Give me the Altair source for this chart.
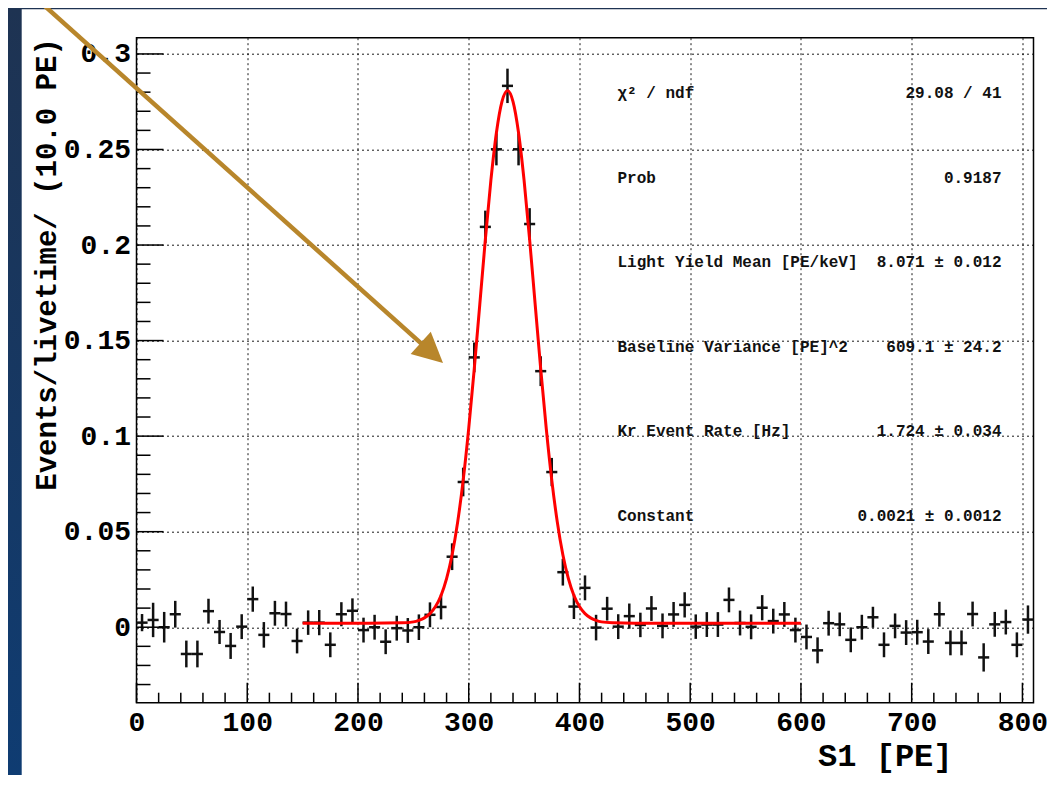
import altair as alt
import pandas as pd

# ---------------- data ----------------
bin_centers = list(range(5, 810, 10))  # 81 bins of 10 PE
rates = [
    0.0024, 0.0038, 0.0000, 0.0068, -0.0140, -0.0140, 0.0084, -0.0025, -0.0098, 0.0003,
    0.0147, -0.0040, 0.0073, 0.0069, -0.0072, 0.0024, 0.0024, -0.0092, 0.0068, 0.0086,
    -0.0015, 0.0000, -0.0076, -0.0005, -0.0017, 0.0000, 0.0065, 0.0106, 0.0369, 0.0760,
    0.1412, 0.2095, 0.2501, 0.2833, 0.2501, 0.2110, 0.1340, 0.0812, 0.0288, 0.0108,
    0.0206, -0.0002, 0.0097, 0.0003, 0.0058, 0.0012, 0.0098, 0.0007, 0.0067, 0.0117,
    0.0003, 0.0014, 0.0014, 0.0143, 0.0022, 0.0002, 0.0102, 0.0032, 0.0067, -0.0015,
    -0.0051, -0.0121, 0.0021, 0.0015, -0.0066, 0.0000, 0.0052, -0.0092, 0.0007, -0.0028,
    -0.0026, -0.0075, 0.0068, -0.0082, -0.0082, 0.0069, -0.0158, 0.0015, 0.0027, -0.0092,
    0.0040,
]
errors = [
    0.0045, 0.009, 0.008, 0.007, 0.007, 0.007, 0.0065, 0.0063, 0.0068, 0.0065,
    0.0066, 0.0067, 0.0065, 0.0065, 0.0065, 0.0064, 0.0066, 0.0065, 0.0063, 0.0065,
    0.0065, 0.0065, 0.0065, 0.0065, 0.0065, 0.0067, 0.0065, 0.0065, 0.007, 0.0075,
    0.0078, 0.0085, 0.0084, 0.009, 0.0084, 0.0083, 0.0078, 0.0074, 0.007, 0.0065,
    0.0065, 0.0067, 0.0062, 0.0065, 0.0066, 0.0064, 0.0065, 0.0065, 0.0065, 0.0066,
    0.0064, 0.0065, 0.0065, 0.0065, 0.0065, 0.0065, 0.0066, 0.0065, 0.0065, 0.0065,
    0.0065, 0.0068, 0.0065, 0.0062, 0.0065, 0.0065, 0.0055, 0.0065, 0.0065, 0.0065,
    0.0065, 0.0065, 0.0065, 0.0065, 0.0065, 0.0065, 0.0074, 0.0065, 0.0065, 0.0065,
    0.0074,
]

# red fit curve
fit_x = [150, 200, 240, 250, 255, 260, 265, 270, 275, 280, 285, 290, 295, 300, 305,
         310, 315, 320, 325, 330, 335, 340, 345, 350, 355, 360, 365, 370, 375, 380,
         385, 390, 395, 400, 405, 410, 415, 420, 430, 450, 600]
fit_y = [0.0021, 0.0021, 0.0023, 0.0028, 0.0036, 0.0049, 0.0071, 0.0108, 0.0166, 0.0254,
         0.0379, 0.0550, 0.0770, 0.1041, 0.1352, 0.1690, 0.2028, 0.2338, 0.2588, 0.2751,
         0.2808, 0.2751, 0.2588, 0.2338, 0.2028, 0.1690, 0.1352, 0.1041, 0.0770, 0.0550,
         0.0379, 0.0254, 0.0166, 0.0108, 0.0071, 0.0049, 0.0036, 0.0028, 0.0023, 0.0021,
         0.0021]

x_major = [0, 100, 200, 300, 400, 500, 600, 700, 800]
x_minor = [v for v in range(20, 810, 20) if v % 100 != 0]
y_major = [0, 0.05, 0.1, 0.15, 0.2, 0.25, 0.3]
y_minor = [round(i * 0.01, 2) for i in range(-3, 31) if i % 5 != 0]

stat_labels = ["χ² / ndf", "Prob", "Light Yield Mean [PE/keV]",
               "Baseline Variance [PE]^2", "Kr Event Rate [Hz]", "Constant"]
stat_values = ["29.08 / 41", "0.9187", "8.071 ± 0.012", "609.1 ± 24.2",
               "1.724 ± 0.034", "0.0021 ± 0.0012"]

# ---------------- layout / style ----------------
W, H = 897, 665
PAD_L, PAD_T, PAD_R, PAD_B = 128.5, 29.7, 13.5, 72.3
FONT = "Liberation Mono"
INK = "#000000"
ARROW = "#B8862B"

xs = alt.Scale(domain=[0, 810], nice=False, zero=False)
ys = alt.Scale(domain=[-0.0395, 0.3085], nice=False, zero=False)

hist = pd.DataFrame({"x": bin_centers, "y": rates, "e": errors})
one = pd.DataFrame({"k": [0]})

x_axis = alt.Axis(
    values=x_major, format="d", tickSize=0, domain=False,
    grid=True, gridDash=[2, 3], gridColor=INK, gridWidth=1, gridOpacity=0.9,
    labelFont=FONT, labelFontWeight="bold", labelFontSize=28, labelColor=INK,
    labelPadding=6, labelFlush=False, labelOverlap=False,
    title="S1 [PE]", titleFont=FONT, titleFontWeight="bold", titleFontSize=32,
    titleColor=INK, titleX=815.5, titleY=63, titleAlign="right",
    titleBaseline="alphabetic",
)
y_axis = alt.Axis(
    values=y_major, format="~g", tickSize=0, domain=False,
    grid=True, gridDash=[2, 3], gridColor=INK, gridWidth=1, gridOpacity=0.9,
    labelFont=FONT, labelFontWeight="bold", labelFontSize=28, labelColor=INK,
    labelPadding=6, labelFlush=False, labelOverlap=False,
    title="Events/livetime/ (10.0 PE)", titleFont=FONT, titleFontWeight="bold",
    titleFontSize=29, titleColor=INK, titleAngle=270, titleX=-90.5, titleY=0,
    titleAlign="right", titleBaseline="middle",
)


def X(field):
    return alt.X(field, scale=xs, axis=x_axis)


def Y(field):
    return alt.Y(field, scale=ys, axis=y_axis)


grad = alt.Gradient(
    gradient="linear",
    stops=[alt.GradientStop(color="#1e3352", offset=0),
           alt.GradientStop(color="#0f3c72", offset=1)],
    x1=0, x2=0, y1=0, y2=1,
)
strip_left = alt.Chart(one).mark_rect(color=grad).encode(
    x=alt.value(-PAD_L), x2=alt.value(-114.8),
    y=alt.value(-PAD_T), y2=alt.value(H + PAD_B),
)
strip_top = alt.Chart(one).mark_rect(color="#1e3352").encode(
    x=alt.value(-PAD_L), x2=alt.value(W + PAD_R),
    y=alt.value(-PAD_T), y2=alt.value(-28.4),
)

hbar = alt.Chart(hist).transform_calculate(
    xa="datum.x - 5", xb="datum.x + 5"
).mark_rule(color="#111111", strokeWidth=2.5).encode(
    x=X("xa:Q"), x2="xb:Q", y=Y("y:Q"),
)
vbar = alt.Chart(hist).transform_calculate(
    lo="datum.y - datum.e", hi="datum.y + datum.e"
).mark_rule(color="#111111", strokeWidth=2.5).encode(
    x=X("x:Q"), y=Y("lo:Q"), y2="hi:Q",
)
fit = alt.Chart(pd.DataFrame({"fx": fit_x, "fy": fit_y})).mark_line(
    color="#ff0000", strokeWidth=3, interpolate="monotone"
).encode(x=X("fx:Q"), y=Y("fy:Q"))

ymaj = alt.Chart(pd.DataFrame({"v": y_major})).mark_rule(color=INK, strokeWidth=1.5).encode(
    y=Y("v:Q"), x=alt.value(0), x2=alt.value(27))
ymin = alt.Chart(pd.DataFrame({"v": y_minor})).mark_rule(color=INK, strokeWidth=1.5).encode(
    y=Y("v:Q"), x=alt.value(0), x2=alt.value(14))
xmaj = alt.Chart(pd.DataFrame({"v": x_major})).mark_rule(color=INK, strokeWidth=1.5).encode(
    x=X("v:Q"), y=alt.value(H), y2=alt.value(H - 20))
xmin = alt.Chart(pd.DataFrame({"v": x_minor})).mark_rule(color=INK, strokeWidth=1.5).encode(
    x=X("v:Q"), y=alt.value(H), y2=alt.value(H - 10))

arrow_line = alt.Chart(one).mark_rule(color=ARROW, strokeWidth=4.5, strokeCap="butt").encode(
    x=alt.value(-108.5), x2=alt.value(291.6), y=alt.value(-46.7), y2=alt.value(311.9))
arrow_head = alt.Chart(one).mark_point(
    shape="M0,0L-1.078,-0.297L-0.408,-1.041Z", filled=True, size=3600,
    color=ARROW, opacity=1, strokeWidth=0,
).encode(x=alt.value(306.5), y=alt.value(325.3))

data_layer = alt.layer(strip_left, strip_top, hbar, vbar, fit,
                       ymaj, ymin, xmaj, xmin, arrow_line, arrow_head)

sdf = pd.DataFrame({"label": stat_labels, "value": stat_values,
                    "row": list(range(len(stat_labels)))})
rowscale = alt.Scale(domain=[0, 5], range=[55.6, 478.3])
st_lab = alt.Chart(sdf).mark_text(
    align="left", baseline="middle", font=FONT, fontWeight="bold",
    fontSize=16, color="#111111",
).encode(x=alt.value(481), y=alt.Y("row:Q", scale=rowscale, axis=None), text="label:N")
st_val = alt.Chart(sdf).mark_text(
    align="right", baseline="middle", font=FONT, fontWeight="bold",
    fontSize=16, color="#111111",
).encode(x=alt.value(865), y=alt.Y("row:Q", scale=rowscale, axis=None), text="value:N")
stats_layer = alt.layer(st_lab, st_val)

chart = alt.layer(data_layer, stats_layer).resolve_scale(
    y="independent"
).resolve_axis(y="independent").properties(
    width=W, height=H,
    padding={"left": PAD_L, "top": PAD_T, "right": PAD_R, "bottom": PAD_B},
    autosize=alt.AutoSizeParams(type="none"),
    background="white",
).configure_view(stroke=INK, strokeWidth=1.5)

chart.save("out.html", embed_options={"renderer": "svg", "actions": False})
